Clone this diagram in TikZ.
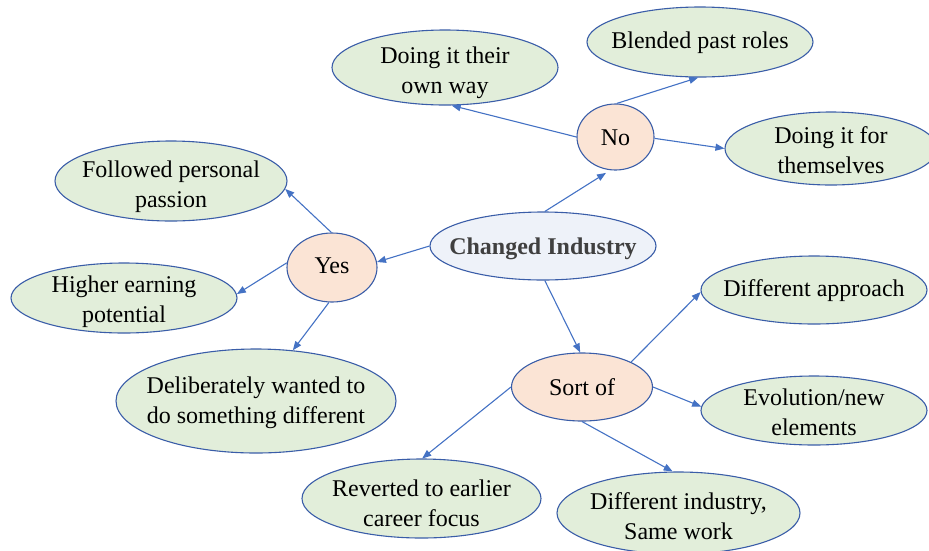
\documentclass[tikz,border=0pt]{standalone}
\usepackage{fontspec}
\setmainfont{Liberation Serif}
\usetikzlibrary{shapes.geometric,arrows.meta}

\definecolor{outline}{HTML}{3A5DA8}
\definecolor{linkblue}{HTML}{4472C4}
\definecolor{leafgreen}{HTML}{E2EEDA}
\definecolor{answerpeach}{HTML}{FBE4D5}
\definecolor{hubblue}{HTML}{EEF2F9}
\definecolor{hubtext}{HTML}{404040}

\tikzset{
  bubble/.style={ellipse, draw=outline, line width=1.1pt, inner sep=0pt},
  leaf/.style={bubble, fill=leafgreen},
  answer/.style={bubble, fill=answerpeach},
  hub/.style={bubble, fill=hubblue},
  caption/.style={align=center, font=\fontsize{24}{30}\selectfont, text=black, inner sep=0pt},
  link/.style={draw=linkblue, line width=1.1pt, -{Triangle[length=9pt,width=7pt]}},
}

\begin{document}
\begin{tikzpicture}[x=1pt,y=-1pt]
\useasboundingbox (0,0) rectangle (929,550);

% central question and the three answers
\node[hub, minimum width=226pt, minimum height=68pt,
      label={[caption, yshift=-3pt, text=hubtext, font=\fontsize{24}{30}\selectfont\bfseries]center:Changed Industry}] (c) at (543,246) {};
\node[answer, minimum width=77pt, minimum height=66pt,
      label={[caption, yshift=-1pt]center:No}] (no) at (615.5,137) {};
\node[answer, minimum width=90pt, minimum height=69pt,
      label={[caption, yshift=2pt]center:Yes}] (yes) at (332,267.5) {};
\node[answer, minimum width=141pt, minimum height=68pt,
      label={[caption]center:Sort of}] (sort) at (582,387) {};

% reasons under "No"
\node[leaf, minimum width=226pt, minimum height=75pt,
      label={[caption, yshift=-5pt]center:{Doing it their\\own way}}] (own) at (445,67.5) {};
\node[leaf, minimum width=226pt, minimum height=70pt,
      label={[caption, yshift=-1pt]center:Blended past roles}] (blended) at (700,42) {};
\node[leaf, minimum width=212pt, minimum height=73pt,
      label={[caption, yshift=-2pt]center:{Doing it for\\themselves}}] (them) at (831,148.5) {};

% reasons under "Yes"
\node[leaf, minimum width=232pt, minimum height=80pt,
      label={[caption, yshift=-6pt]center:{Followed personal\\passion}}] (followed) at (171,181) {};
\node[leaf, minimum width=226pt, minimum height=70pt,
      label={[caption, yshift=-4pt]center:{Higher earning\\potential}}] (higher) at (124,298) {};
\node[leaf, minimum width=280pt, minimum height=104pt,
      label={[caption, yshift=-2pt]center:{Deliberately wanted to\\do something different}}] (delib) at (256,401) {};

% reasons under "Sort of"
\node[leaf, minimum width=226pt, minimum height=68pt,
      label={[caption, yshift=-1pt]center:Different approach}] (approach) at (814,290) {};
\node[leaf, minimum width=226pt, minimum height=69pt,
      label={[caption, yshift=-2pt]center:{Evolution/new\\elements}}] (evol) at (814,410.5) {};
\node[leaf, minimum width=239pt, minimum height=79pt,
      label={[caption, yshift=-5pt]center:{Reverted to earlier\\career focus}}] (rev) at (421.5,498.5) {};
\node[leaf, minimum width=243pt, minimum height=82pt,
      label={[caption, yshift=-3pt]center:{Different industry,\\Same work}}] (industry) at (678.5,513) {};

% connectors
\draw[link] (c.180) -- (yes.7);
\draw[link, shorten >=5pt] (c.87) -- (no.261);
\draw[link] (c.273) -- (sort.93);

\draw[link] (no.180) -- (own.280);
\draw[link] (no.88) -- (blended.267);
\draw[link] (no.358) -- (them.180);

\draw[link] (yes.91) -- (followed.356);
\draw[link] (yes.174) -- (higher.2);
\draw[link] (yes.265) -- (delib.54);

\draw[link] (sort.27) -- (approach.181);
\draw[link] (sort.0) -- (evol.178);
\draw[link] (sort.180) -- (rev.89);
\draw[link] (sort.270) -- (industry.98);
\end{tikzpicture}
\end{document}
